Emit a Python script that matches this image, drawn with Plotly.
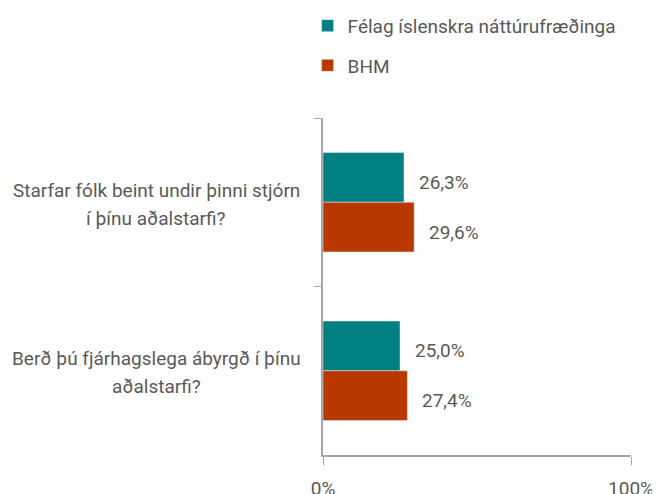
import plotly.graph_objects as go

categories = ["Starfar fólk beint undir þinni stjórn<br>í þínu aðalstarfi?",
              "Berð þú fjárhagslega ábyrgð í þínu<br>aðalstarfi?"]
series_names = ["Félag íslenskra náttúrufræðinga", "BHM"]
fin_values = [26.3, 25.0]
bhm_values = [29.6, 27.4]
x_tick_vals = [0, 100]
x_tick_text = ["0%", "100%"]

colors = ["#008080", "#B93800"]
FONT = "Roboto"
GREY = "#595959"
AX = "#A6A6A6"
FS = 19

fig = go.Figure()
for name, vals, col in zip(series_names, [fin_values, bhm_values], colors):
    fig.add_trace(go.Bar(
        y=categories, x=vals, name=name, orientation="h",
        marker=dict(color=col), legendgroup=name,
    ))

annotations = []
shifts = [20, -30]
for vals, ys in zip([fin_values, bhm_values], shifts):
    for cat, v in zip(categories, vals):
        annotations.append(dict(
            x=v, y=cat, xref="x", yref="y", text=f"{v:.1f}".replace(".", ",") + "%",
            showarrow=False, xanchor="left", xshift=13, yshift=ys,
            font=dict(family=FONT, size=FS, color=GREY)))

for cat in categories:
    lines = cat.split("<br>")
    for ln, ys in zip(lines, [12, -16]):
        annotations.append(dict(
            x=-167 / 308, y=cat, xref="paper", yref="y", text=ln, showarrow=False,
            xanchor="center", yshift=ys,
            font=dict(family=FONT, size=FS, color=GREY)))

fig.update_layout(
    width=660, height=494,
    margin=dict(l=315, r=37, t=110, b=47, autoexpand=False),
    paper_bgcolor="white", plot_bgcolor="white",
    barmode="group", bargap=0.41, bargroupgap=0,
    font=dict(family=FONT, size=FS, color=GREY),
    showlegend=True,
    legend=dict(x=-0.05, y=1.33, xanchor="left", yanchor="top",
                tracegroupgap=12, itemwidth=30,
                font=dict(family=FONT, size=FS, color=GREY),
                bgcolor="rgba(0,0,0,0)"),
    annotations=annotations,
)
fig.update_yaxes(type="category", autorange="reversed", showticklabels=False,
                 tickson="boundaries", ticks="outside", ticklen=7, tickcolor=AX,
                 showline=True, linecolor=AX, linewidth=1.5, showgrid=False,
                 automargin=False)
fig.update_xaxes(range=[0, 100], tickvals=x_tick_vals, ticktext=x_tick_text,
                 ticks="outside", ticklen=8, tickcolor=AX, showline=True,
                 linecolor=AX, linewidth=1.5, showgrid=False, zeroline=False,
                 ticklabelstandoff=7, automargin=False,
                 tickfont=dict(family=FONT, size=FS, color=GREY))

fig.write_html("out.html")
